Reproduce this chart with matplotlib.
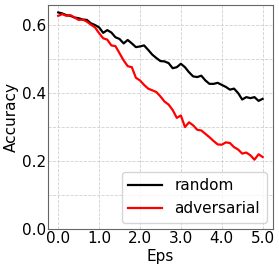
import matplotlib
matplotlib.use("Agg")
import matplotlib.pyplot as plt
from matplotlib.ticker import MultipleLocator, FormatStrFormatter
import numpy as np

eps = [round(0.1 * i, 1) for i in range(51)]
random_acc = [0.637, 0.634, 0.629, 0.627, 0.622, 0.620, 0.616, 0.615, 0.605, 0.600,
              0.593, 0.577, 0.585, 0.578, 0.564, 0.559, 0.546, 0.556, 0.546, 0.535,
              0.537, 0.540, 0.527, 0.513, 0.503, 0.494, 0.493, 0.488, 0.473, 0.476,
              0.486, 0.476, 0.461, 0.449, 0.447, 0.451, 0.437, 0.427, 0.427, 0.430,
              0.424, 0.418, 0.410, 0.413, 0.400, 0.381, 0.388, 0.385, 0.388, 0.377,
              0.383]
adversarial_acc = [0.627, 0.632, 0.627, 0.629, 0.622, 0.615, 0.616, 0.610, 0.601, 0.593,
                   0.576, 0.561, 0.557, 0.540, 0.538, 0.517, 0.496, 0.479, 0.476, 0.445,
                   0.437, 0.424, 0.413, 0.408, 0.403, 0.390, 0.375, 0.366, 0.350, 0.327,
                   0.334, 0.300, 0.314, 0.305, 0.292, 0.290, 0.280, 0.270, 0.259, 0.249,
                   0.248, 0.255, 0.253, 0.241, 0.234, 0.222, 0.225, 0.217, 0.204, 0.220,
                   0.212]

fs = 11
fig = plt.figure(figsize=(2.79, 2.67), dpi=100)
ax = fig.add_axes([0.172, 0.142, 0.806, 0.839])
ax.plot(eps, random_acc, color="black", lw=1.6, label="random")
ax.plot(eps, adversarial_acc, color="red", lw=1.6, label="adversarial")
ax.set_ylim(bottom=0)
ax.xaxis.set_major_locator(MultipleLocator(1.0))
ax.xaxis.set_major_formatter(FormatStrFormatter("%.1f"))
ax.yaxis.set_major_locator(MultipleLocator(0.2))
ax.yaxis.set_minor_locator(MultipleLocator(0.1))
ax.yaxis.set_major_formatter(FormatStrFormatter("%.1f"))
ax.grid(True, which="both", linestyle="--", color="#d0d0d0", linewidth=0.6)
ax.tick_params(which="both", length=0, labelsize=fs, pad=1.5)
for s in ax.spines.values():
    s.set_color("#666666")
ax.set_xlabel("Eps", fontsize=fs, labelpad=2)
ax.set_ylabel("Accuracy", fontsize=fs, labelpad=2)
ax.legend(loc="lower right", fontsize=fs, handlelength=2.2, borderaxespad=0.4,
          borderpad=0.45)
fig.savefig("out.png", dpi=100)
